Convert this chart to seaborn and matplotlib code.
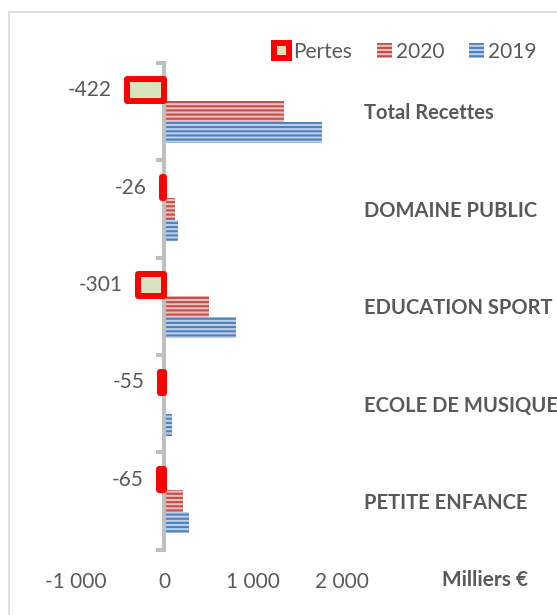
import numpy as np
import pandas as pd
import matplotlib
matplotlib.use("Agg")
import matplotlib.pyplot as plt
import matplotlib.patches as mpatches
from matplotlib.ticker import FuncFormatter
import seaborn as sns

# ---- data (milliers d'euros) ----
categories = ["Total Recettes", "DOMAINE PUBLIC", "EDUCATION SPORT",
              "ECOLE DE MUSIQUE", "PETITE ENFANCE"]
pertes = [-422, -26, -301, -55, -65]
v2020 = [1355, 124, 508, 15, 207]
v2019 = [1777, 150, 809, 90, 272]
series = ["Pertes", "2020", "2019"]
x_ticks = [-1000, 0, 1000, 2000]

df = pd.DataFrame({
    "categorie": categories * 3,
    "serie": [s for s in series for _ in categories],
    "valeur": pertes + v2020 + v2019,
})

sns.set_style("white")
plt.rcParams["font.family"] = ["Lato", "DejaVu Sans"]
plt.rcParams["hatch.linewidth"] = 1.5

grey_txt = "#595959"
axis_grey = "#BFBFBF"

fig = plt.figure(figsize=(5.57, 6.15), dpi=100)
ax = fig.add_axes([0.1364, 0.1062, 0.4767, 0.7917])

sns.barplot(data=df, y="categorie", x="valeur", hue="serie", hue_order=series,
            order=categories, orient="h", width=0.657, gap=0, dodge=True,
            legend=False, ax=ax)

# style per series
styles = {
    "Pertes": dict(facecolor="#D7E4BD", edgecolor="#FF0000", linewidth=4.3, hatch=None),
    "2020": dict(facecolor="#EFBDBB", edgecolor="#C0504D", linewidth=0, hatch="----"),
    "2019": dict(facecolor="#BCD0E8", edgecolor="#4F81BD", linewidth=0, hatch="----"),
}
for cont, name in zip(ax.containers, series):
    st = styles[name]
    for p in cont:
        p.set_facecolor(st["facecolor"])
        p.set_edgecolor(st["edgecolor"])
        p.set_linewidth(st["linewidth"])
        if st["hatch"]:
            p.set_hatch(st["hatch"])
        if name == "Pertes":
            p.set_joinstyle("round")
            p.set_zorder(4)

# data labels on losses
ax.bar_label(ax.containers[0], fmt="%.0f", padding=11, fontsize=15, color=grey_txt)

# axes
ax.set_xlim(-1000, 2000)
ax.set_ylim(4.5, -0.5)
ax.set_xlabel("")
ax.set_ylabel("")
for s in ["top", "right", "bottom"]:
    ax.spines[s].set_visible(False)
ax.spines["left"].set_position(("data", 0))
ax.spines["left"].set_color(axis_grey)
ax.spines["left"].set_linewidth(2.9)
ax.spines["left"].set_zorder(3)

ax.set_xticks(x_ticks)
ax.xaxis.set_major_formatter(FuncFormatter(lambda v, p: f"{v:,.0f}".replace(",", " ")))
ax.tick_params(axis="x", length=0, pad=16, labelsize=15, labelcolor=grey_txt)

ax.set_yticks(range(len(categories)), labels=categories)
ax.set_yticks(np.arange(-0.5, len(categories), 1), minor=True)
ax.tick_params(axis="y", which="major", left=False, right=False,
               labelleft=False, labelright=True, pad=12.7, labelsize=14.5,
               labelcolor=grey_txt)
ax.tick_params(axis="y", which="minor", left=True, length=6, width=2.9,
               color=axis_grey, direction="out")
for lab in ax.get_yticklabels():
    lab.set_fontweight("bold")

fig.text(485 / 557, 1 - 580 / 615, "Milliers €", fontsize=15, fontweight="bold",
         color=grey_txt, ha="center", va="center")

# legend
handles = []
for name in series:
    st = styles[name]
    h = mpatches.Patch(facecolor=st["facecolor"], edgecolor=st["edgecolor"],
                       linewidth=st["linewidth"], hatch=st["hatch"], label=name)
    if name == "Pertes":
        h.set_joinstyle("round")
    handles.append(h)
fig.legend(handles=handles, loc="center left", bbox_to_anchor=(264 / 557, 1 - 52 / 615),
           ncol=3, frameon=False, fontsize=15, handlelength=0.7, handleheight=0.7,
           handletextpad=0.2, columnspacing=1.2, borderpad=0, labelcolor=grey_txt)

# chart border
fig.patches.append(mpatches.Rectangle((9 / 557, -0.1), 1.2, 1.1 - 12 / 615,
                                      transform=fig.transFigure, fill=False,
                                      edgecolor="#D9D9D9", linewidth=1.2))

fig.savefig("out.png", dpi=100)
